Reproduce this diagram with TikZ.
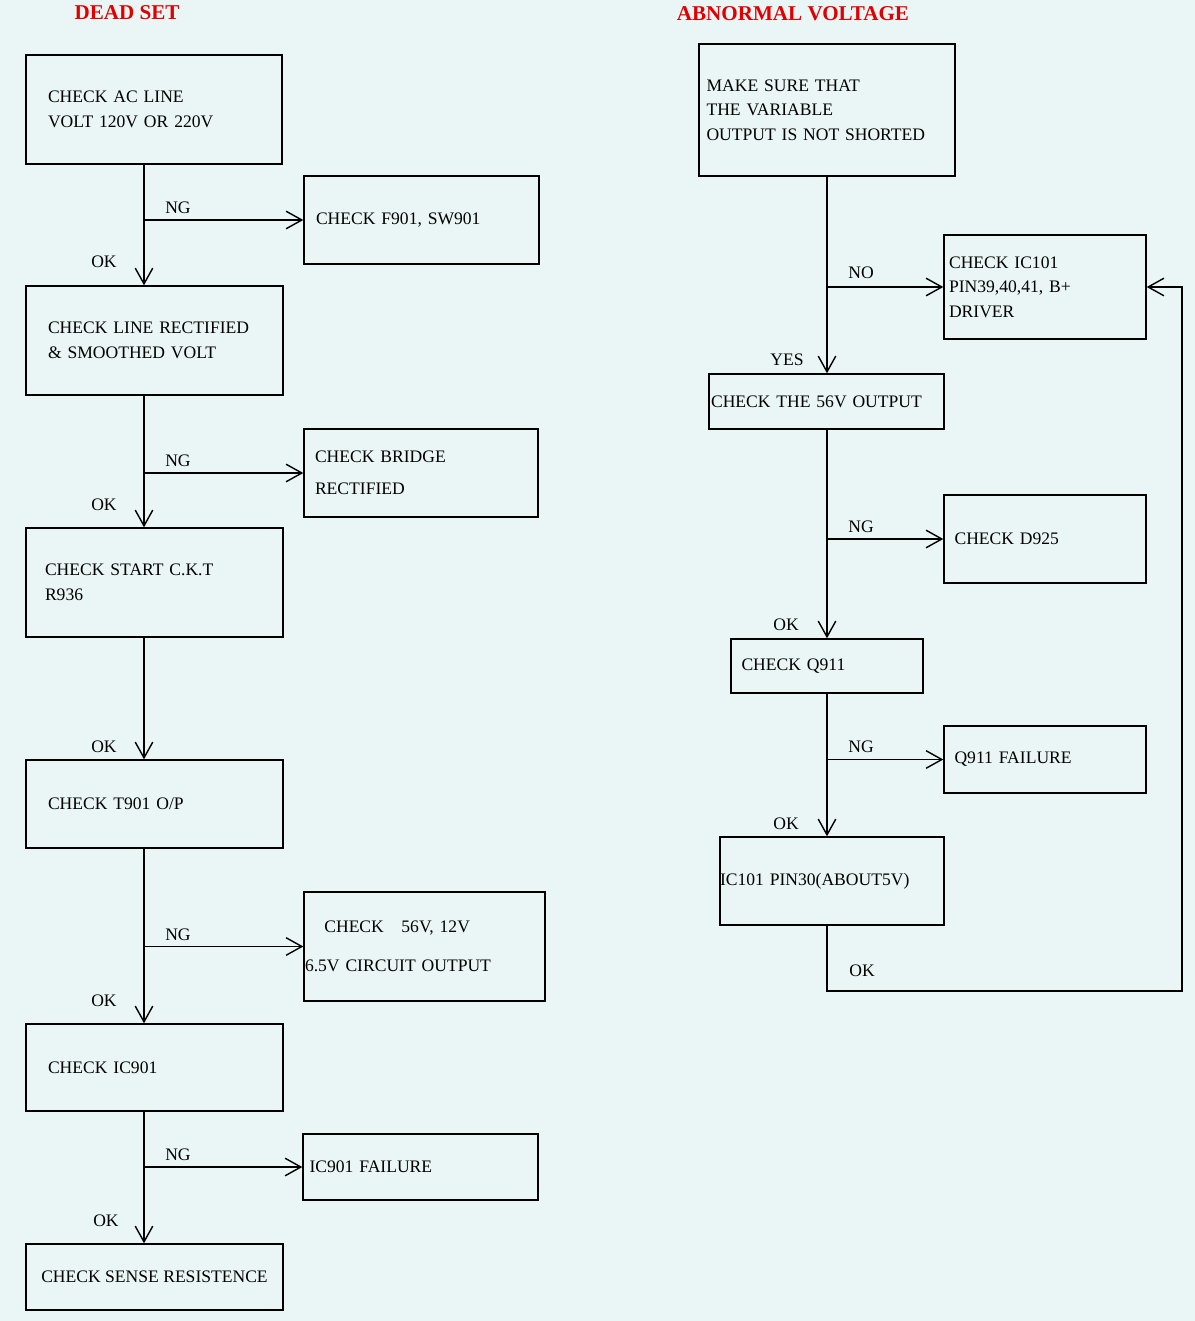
\documentclass[tikz,border=0pt]{standalone}
\usepackage{fontspec}
\setmainfont{Liberation Serif}
\usetikzlibrary{arrows.meta}
\definecolor{bgc}{HTML}{EAF5F5}
\definecolor{titlered}{HTML}{E00000}
\tikzset{
  box/.style={draw, line width=0.8pt, inner sep=0pt, align=left, font=\fontsize{10}{14}\selectfont},
  lbl/.style={inner sep=0pt, font=\fontsize{10}{12}\selectfont},
  title/.style={inner sep=0pt, text=titlered, font=\fontsize{12}{14}\selectfont\bfseries},
  flow/.style={-{Straight Barb[length=9pt,width=10pt]}, line width=0.8pt},
  wire/.style={line width=0.8pt}
}
\begin{document}
\begin{tikzpicture}[x=0.02cm, y=-0.02cm]
\fill[bgc] (0,0) rectangle (1195,1321);
\coordinate (lx) at (144,0);
\coordinate (rx) at (827,0);

% titles
\node (t1) [title] at (127,13) {DEAD SET};
\node (t2) [title] at (793,14) {ABNORMAL VOLTAGE};

% left column
\node (b1) [box, minimum width=5.12cm, minimum height=2.18cm, text width=4.24cm] at (154,109.5) {CHECK AC LINE\\VOLT 120V OR 220V};
\node (f1) [box, minimum width=4.7cm, minimum height=1.76cm, text width=4.22cm] at (421.5,220) {CHECK F901, SW901};
\node (b2) [box, minimum width=5.14cm, minimum height=2.18cm, text width=4.26cm] at (154.5,340.5) {CHECK LINE RECTIFIED\\\& SMOOTHED VOLT};
\node (f2) [box, minimum width=4.68cm, minimum height=1.76cm, text width=4.24cm] at (421,473) {CHECK BRIDGE\\[4pt]RECTIFIED};
\node (b3) [box, minimum width=5.14cm, minimum height=2.18cm, text width=4.38cm] at (154.5,582.5) {CHECK START C.K.T\\R936\\[8pt]};
\node (b4) [box, minimum width=5.14cm, minimum height=1.76cm, text width=4.26cm] at (154.5,804) {CHECK T901 O/P};
\node (f4) [box, minimum width=4.82cm, minimum height=2.18cm, text width=4.78cm] at (424.5,946.5) {\hspace*{11pt}CHECK\quad 56V, 12V\\[8pt]6.5V CIRCUIT OUTPUT};
\node (b5) [box, minimum width=5.14cm, minimum height=1.74cm, text width=4.26cm] at (154.5,1067.5) {CHECK IC901};
\node (f5) [box, minimum width=4.7cm, minimum height=1.32cm, text width=4.44cm] at (420.5,1167) {IC901 FAILURE};
\node (b6) [box, minimum width=5.14cm, minimum height=1.32cm, align=center] at (154.5,1277) {CHECK SENSE RESISTENCE};

% right column
\node (r1) [box, minimum width=5.12cm, minimum height=2.64cm, text width=4.82cm] at (827,110) {MAKE SURE THAT\\THE VARIABLE\\OUTPUT IS NOT SHORTED};
\node (g1) [box, minimum width=4.04cm, minimum height=2.08cm, text width=3.84cm] at (1045,287) {CHECK IC101\\PIN39,40,41, B+\\DRIVER};
\node (r2) [box, minimum width=4.7cm, minimum height=1.1cm, text width=4.62cm] at (826.5,401.5) {CHECK THE 56V OUTPUT};
\node (g2) [box, minimum width=4.04cm, minimum height=1.76cm, text width=3.62cm] at (1045,539) {CHECK D925};
\node (r3) [box, minimum width=3.84cm, minimum height=1.08cm, text width=3.42cm] at (827,666) {CHECK Q911};
\node (g3) [box, minimum width=4.04cm, minimum height=1.34cm, text width=3.62cm] at (1045,759.5) {Q911 FAILURE};
\node (r4) [box, minimum width=4.48cm, minimum height=1.76cm, text width=4.48cm] at (832,881) {IC101 PIN30(ABOUT5V)};
\coordinate (fb) at (1182,991);

% Arrows
\draw[flow] (b1.south -| lx) -- (b2.north -| lx);
\draw[flow] (b2.south -| lx) -- (b3.north -| lx);
\draw[flow] (b3.south -| lx) -- (b4.north -| lx);
\draw[flow] (b4.south -| lx) -- (b5.north -| lx);
\draw[flow] (b5.south -| lx) -- (b6.north -| lx);
\draw[flow] (f1.west -| lx) -- (f1.west);
\draw[flow] (f2.west -| lx) -- (f2.west);
\draw[flow] (f4.west -| lx) -- (f4.west);
\draw[flow] (f5.west -| lx) -- (f5.west);

\draw[flow] (r1.south -| rx) -- (r2.north -| rx);
\draw[flow] (r2.south -| rx) -- (r3.north -| rx);
\draw[flow] (r3.south -| rx) -- (r4.north -| rx);
\draw[flow] (g1.west -| rx) -- (g1.west);
\draw[flow] (g2.west -| rx) -- (g2.west);
\draw[flow] (g3.west -| rx) -- (g3.west);
\draw[flow] (r4.south -| rx) |- (fb) |- (g1.east);

% labels
\foreach \y in {208,461,935,1155} \node[lbl] at (178,\y) {NG};
\foreach \y in {262,505,747,1001} \node[lbl] at (104,\y) {OK};
\node[lbl] at (106,1221) {OK};
\node[lbl] at (861,273) {NO};
\node[lbl] at (787,360) {YES};
\foreach \y in {527,747} \node[lbl] at (861,\y) {NG};
\foreach \y in {625,824} \node[lbl] at (786,\y) {OK};
\node[lbl] at (862,971) {OK};
\end{tikzpicture}
\end{document}
